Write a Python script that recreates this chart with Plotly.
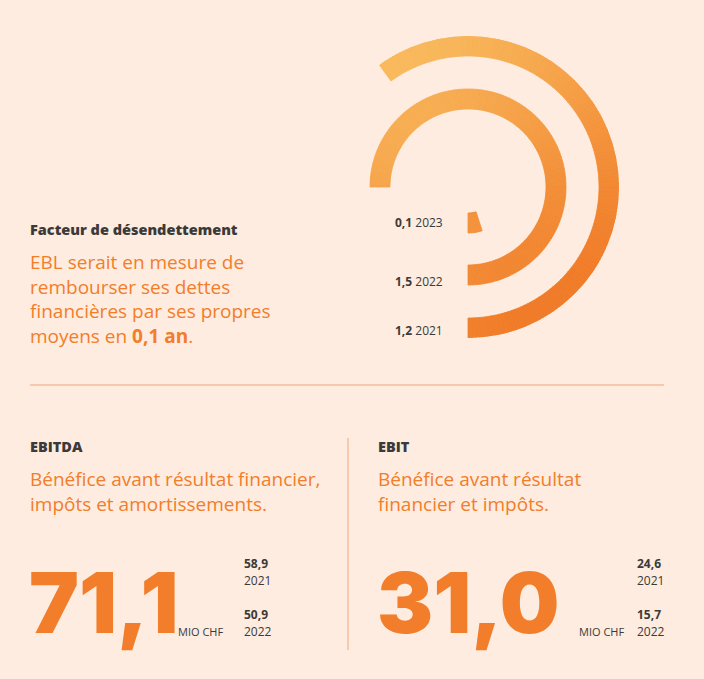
import math
import plotly.graph_objects as go

# ------------------------------------------------------------
# DONNÉES
# ------------------------------------------------------------
annees = ["2021", "2022", "2023"]
facteur = [1.2, 1.5, 0.1]          # facteur de désendettement (années)
facteur_txt = ["1,2", "1,5", "0,1"]

ebitda_2023 = "71,1"
ebitda_prec = ["58,9", "50,9"]
ebitda_annees = ["2021", "2022"]

ebit_2023 = "31,0"
ebit_prec = ["24,6", "15,7"]
ebit_annees = ["2021", "2022"]

W, H = 704, 679
BG = "#FDECDF"
ORANGE = "#F27D2B"
DARK = "#3B3A39"
FONT = "Open Sans"

# anneaux : rayon intérieur (px) par année, épaisseur
anneau_base = {"2021": 131, "2022": 78, "2023": 26}
epaisseur = 20
degres_par_an = 180      # 1 an = 180°
pas = 1.5                # découpage en segments pour le dégradé

# centre du cercle en pixels
cx, cy, rmax = 468, 187, 151


def couleur(theta_deg, r):
    # dégradé jaune-orangé (haut gauche) -> orange (bas droite)
    a = math.radians(theta_deg)       # theta=0 en bas, sens anti-horaire
    dx = r * math.sin(a)
    dy = r * math.cos(a)
    proj = dx * 0.57 + dy * 0.82
    t = min(max((proj + 150) / 300, 0), 1)
    c0 = (249, 187, 94)
    c1 = (240, 121, 38)
    rgb = [round(c0[i] + (c1[i] - c0[i]) * t) for i in range(3)]
    return "rgb(%d,%d,%d)" % tuple(rgb)


fig = go.Figure()

for an, val in zip(annees, facteur):
    span = val * degres_par_an
    n = max(int(round(span / pas)), 1)
    w = span / n
    thetas = [w * (i + 0.5) for i in range(n)]
    base = anneau_base[an]
    cols = [couleur(t, base + epaisseur / 2) for t in thetas]
    fig.add_trace(go.Barpolar(
        r=[epaisseur] * n,
        base=[base] * n,
        theta=thetas,
        width=[w] * n,
        marker=dict(color=cols, line=dict(color=cols, width=0.8)),
        hoverinfo="skip",
        showlegend=False,
    ))

fig.update_layout(
    width=W, height=H,
    paper_bgcolor=BG, plot_bgcolor=BG,
    margin=dict(l=0, r=0, t=0, b=0),
    polar=dict(
        domain=dict(x=[(cx - rmax) / W, (cx + rmax) / W],
                    y=[1 - (cy + rmax) / H, 1 - (cy - rmax) / H]),
        bgcolor="rgba(0,0,0,0)",
        radialaxis=dict(range=[0, rmax], visible=False),
        angularaxis=dict(rotation=270, direction="counterclockwise",
                         visible=False),
        bargap=0,
    ),
)


def px(x):
    return x / W


def py(y):
    return 1 - y / H


def txt(x, y, s, size, color, anchor="left", weight="normal", family=FONT,
        yanchor="middle"):
    fig.add_annotation(x=px(x), y=py(y), xref="paper", yref="paper",
                       text=s, showarrow=False, xanchor=anchor,
                       yanchor=yanchor, align="left",
                       font=dict(size=size, color=color, family=family,
                                 weight=weight))


# étiquettes des anneaux
lab_y = {"2021": 330, "2022": 281, "2023": 223}
for an, s in zip(annees, facteur_txt):
    txt(445, lab_y[an], "<b>%s</b> %s" % (s, an), 12, DARK, anchor="right")

# bloc facteur de désendettement
txt(28, 229, "Facteur de désendettement", 14.5, DARK, weight=800)
lignes = ["EBL serait en mesure de", "rembourser ses dettes",
          "financières par ses propres", "moyens en <b>0,1 an</b>."]
txt(28, 299, "<br>".join(lignes), 19, ORANGE)

# séparateurs
fig.add_shape(type="line", xref="paper", yref="paper",
              x0=px(30), x1=px(664), y0=py(385), y1=py(385),
              line=dict(color="#F0A576", width=1))
fig.add_shape(type="line", xref="paper", yref="paper",
              x0=px(348), x1=px(348), y0=py(438), y1=py(650),
              line=dict(color="#F0A576", width=1))

# EBITDA / EBIT
blocs = [
    (30, "EBITDA", ["Bénéfice avant résultat financier,",
                    "impôts et amortissements."],
     ebitda_2023, ebitda_prec, ebitda_annees, 176, 242),
    (378, "EBIT", ["Bénéfice avant résultat", "financier et impôts."],
     ebit_2023, ebit_prec, ebit_annees, 577, 635),
]
for x0, titre, desc, grand, prec, ans, xmio, xval in blocs:
    txt(x0 - 2, 446, titre, 14.5, DARK, weight=800)
    txt(x0 - 2, 491, "<br>".join(desc), 19, ORANGE)
    txt(x0 - 3, 602, grand, 84, ORANGE, weight=900, family="Inter")
    txt(xmio, 631, "MIO CHF", 11, DARK)
    for i, (v, a) in enumerate(zip(prec, ans)):
        txt(xval, 563 + i * 51, "<b>%s</b>" % v, 12, DARK)
        txt(xval, 580 + i * 51, a, 12, DARK)

fig.write_html(
    "out.html",
    config={"displayModeBar": False},
    post_script="document.body.style.margin='0';"
                "document.body.style.background='%s';" % BG,
)
